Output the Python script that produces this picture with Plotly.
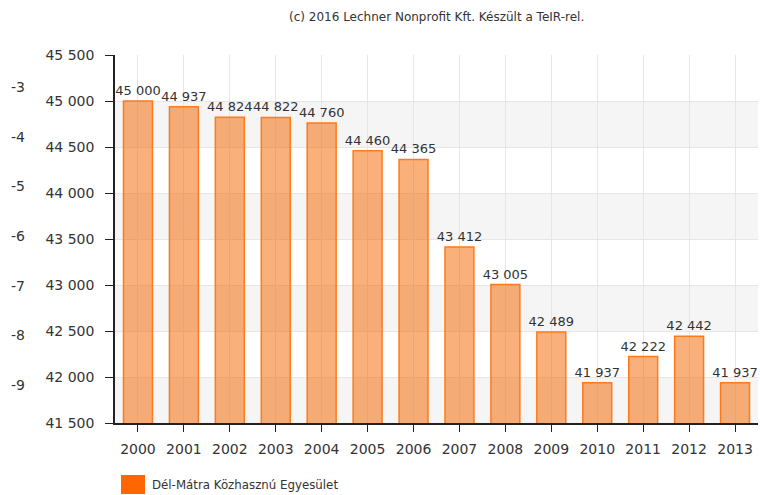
import plotly.graph_objects as go

years = ["2000", "2001", "2002", "2003", "2004", "2005", "2006",
         "2007", "2008", "2009", "2010", "2011", "2012", "2013"]
population = [45000, 44937, 44824, 44822, 44760, 44460, 44365,
              43412, 43005, 42489, 41937, 42222, 42442, 41937]
y_ticks = [41500, 42000, 42500, 43000, 43500, 44000, 44500, 45000, 45500]
secondary_ticks = [-3, -4, -5, -6, -7, -8, -9]
series_name = "Dél-Mátra Közhasznú Egyesület"
credit = "(c) 2016 Lechner Nonprofit Kft. Készült a TeIR-rel."

FONT = "DejaVu Sans"
TXT = "#333333"

W, H = 760, 495
ML, MR, MT, MB = 25, 2, 55, 72
PW, PH = W - ML - MR, H - MT - MB
plot_left = 115
dom0 = (plot_left - ML) / PW

def px_x(x):
    return (x - ML) / PW

def px_y(y):
    return 1 - (y - MT) / PH

fig = go.Figure()
fig.add_trace(go.Bar(
    x=years, y=population, name=series_name,
    marker=dict(color="rgba(246,104,0,0.52)",
                line=dict(color="#FF7A1A", width=1.5)),
    texttemplate="%{y:,d}", textposition="outside", constraintext="none",
    textfont=dict(family=FONT, size=13, color=TXT),
    cliponaxis=False, showlegend=False, hoverinfo="x+y",
))
fig.add_trace(go.Scatter(x=[], y=[], yaxis="y2", showlegend=False,
                         hoverinfo="skip"))

shapes = []
for i in range(0, len(y_ticks) - 1):
    if i % 2 == 0:
        shapes.append(dict(type="rect", xref="paper", yref="y",
                           x0=dom0, x1=1, y0=y_ticks[i], y1=y_ticks[i + 1],
                           fillcolor="#F5F5F5", line=dict(width=0), layer="below"))

shapes.append(dict(type="rect", xref="paper", yref="paper",
                   x0=px_x(121), x1=px_x(145), y0=px_y(475), y1=px_y(494),
                   fillcolor="#FF6600", line=dict(width=0)))

fig.update_layout(
    width=W, height=H,
    margin=dict(l=ML, r=MR, t=MT, b=MB, autoexpand=False),
    paper_bgcolor="white", plot_bgcolor="rgba(0,0,0,0)",
    separators=". ",
    font=dict(family=FONT, size=14, color=TXT),
    bargap=0.37,
    shapes=shapes,
    xaxis=dict(
        domain=[dom0, 1], type="category", automargin=False,
        showgrid=True, gridcolor="#E6E6E6", gridwidth=1,
        showline=True, linecolor="#222222", linewidth=1.5,
        ticks="outside", ticklen=7, tickcolor="#222222",
        tickfont=dict(family=FONT, size=14, color=TXT),
        ticklabelstandoff=5,
    ),
    yaxis=dict(
        range=[41500, 45500], tickvals=y_ticks, tickformat=",d",
        automargin=False,
        showgrid=True, gridcolor="#E6E6E6", gridwidth=1,
        showline=True, linecolor="#222222", linewidth=1.5,
        ticks="outside", ticklen=8, tickcolor="#222222",
        tickfont=dict(family=FONT, size=14, color=TXT),
        ticklabelstandoff=8, zeroline=False,
    ),
    yaxis2=dict(
        overlaying="y", anchor="free", position=0, side="left",
        automargin=False,
        range=[-9.765, -2.356], tickvals=secondary_ticks,
        ticktext=[str(v) for v in secondary_ticks],
        showgrid=False, showline=False, zeroline=False, ticks="",
        tickfont=dict(family=FONT, size=14, color=TXT),
    ),
    annotations=[
        dict(text=credit, xref="paper", yref="paper",
             x=px_x(436), y=px_y(17),
             xanchor="center", yanchor="middle", showarrow=False,
             font=dict(family=FONT, size=12, color=TXT)),
        dict(text=series_name, xref="paper", yref="paper",
             x=px_x(150), y=px_y(485),
             xanchor="left", yanchor="middle", showarrow=False,
             font=dict(family=FONT, size=11.8, color=TXT)),
    ],
)

fig.write_html(
    "out.html",
    config={"displayModeBar": False},
    post_script="document.body.style.margin='0';document.body.style.overflow='hidden';",
)
